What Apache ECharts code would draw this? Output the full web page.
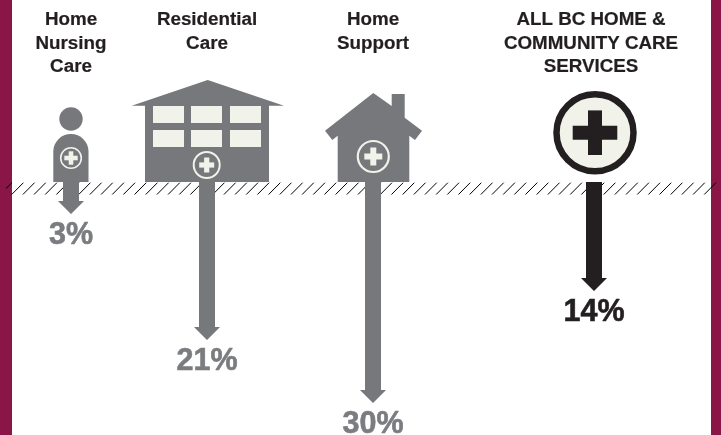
<!DOCTYPE html>
<html>
<head>
<meta charset="utf-8">
<style>html,body{margin:0;padding:0;background:#fff}#c{width:721px;height:435px}</style>
<script src="https://cdn.jsdelivr.net/npm/echarts@6/dist/echarts.min.js"></script>
</head>
<body>
<div id="c"></div>
<script>
const categories = ["Home\nNursing\nCare", "Residential\nCare", "Home\nSupport", "ALL BC HOME &\nCOMMUNITY CARE\nSERVICES"];
const values = [3, 21, 30, 14];

const GRAY = '#77787b', DARK = '#231f20', CREAM = '#f1f2ea', MAROON = '#8a1648';
const centers = [71, 207, 373, 594];
const labelShift = [0, 0, 0, 6];
const colors = [GRAY, GRAY, GRAY, DARK];
const FONT = '"Liberation Sans", Arial, sans-serif';

const chart = echarts.init(document.getElementById('c'), null, {renderer: 'canvas', width: 721, height: 435});

function arrow(i) {
  return function (params, api) {
    const x = api.coord([0, api.value(1)])[0];
    const end = api.coord([0, api.value(1)])[1];
    const start = api.coord([0, 0])[1] + 2;
    const sw = 8, hw = 13, hh = 13;
    const tc = i === 3 ? DARK : '#7b7c80';
    return {
      type: 'group',
      children: [
        {type: 'polygon', shape: {points: [[x - sw, start], [x + sw, start], [x + sw, end], [x + hw, end], [x, end + hh], [x - hw, end], [x - sw, end]]}, style: {fill: colors[i]}},
        {type: 'text', style: {text: api.value(1) + '%', x: x, y: end + 34.5, align: 'center', verticalAlign: 'middle', textAlign: 'center', textVerticalAlign: 'middle', fill: tc, stroke: tc, lineWidth: 0.6, font: 'bold 30.5px ' + FONT}}
      ]
    };
  };
}

const grid = [], xAxis = [], yAxis = [], series = [];
categories.forEach(function (c, i) {
  grid.push({left: centers[i] - 60, width: 120, top: 180, height: 245});
  xAxis.push({
    gridIndex: i, type: 'category', position: 'top', data: [c],
    axisLine: {show: false}, axisTick: {show: false},
    axisLabel: {show: true, interval: 0, margin: 171.5, verticalAlign: 'top', color: '#231f20', fontFamily: FONT, fontWeight: 'bold', fontSize: 18.8, lineHeight: 23.4, align: 'center', padding: [0, labelShift[i], 0, 0], textBorderColor: '#231f20', textBorderWidth: 0.2}
  });
  yAxis.push({gridIndex: i, type: 'value', inverse: true, min: 0, max: 35, show: false});
  series.push({type: 'custom', xAxisIndex: i, yAxisIndex: i, z: 5, clip: false, data: [[0, values[i]]], encode: {x: 0, y: 1}, renderItem: arrow(i)});
});

/* decorative furniture */
const g = [];
g.push({type: 'rect', z: 0, shape: {x: 0, y: 0, width: 12, height: 435}, style: {fill: MAROON}});
g.push({type: 'rect', z: 0, shape: {x: 711, y: 0, width: 10, height: 435}, style: {fill: MAROON}});
g.push({type: 'line', z: 1, shape: {x1: 6, y1: 188.5, x2: 12, y2: 182.7}, style: {stroke: '#000', lineWidth: 1}});
for (let k = 0; k <= 62; k++) {
  const bx = 11.7 + 11.17 * k;
  g.push({type: 'line', z: 1, shape: {x1: bx, y1: 194.5, x2: bx + 11.7, y2: 182.7}, style: {stroke: '#000', lineWidth: 1}});
}
function badge(cx, cy, r, sw, half, thick) {
  g.push({type: 'circle', z: 4, shape: {cx: cx, cy: cy, r: r}, style: {fill: 'none', stroke: CREAM, lineWidth: sw}});
  g.push({type: 'rect', z: 4, shape: {x: cx - half, y: cy - thick / 2, width: half * 2, height: thick}, style: {fill: CREAM}});
  g.push({type: 'rect', z: 4, shape: {x: cx - thick / 2, y: cy - half, width: thick, height: half * 2}, style: {fill: CREAM}});
}
/* person */
g.push({type: 'circle', z: 3, shape: {cx: 71, cy: 119, r: 11.7}, style: {fill: GRAY}});
g.push({type: 'rect', z: 3, shape: {x: 53.3, y: 134, width: 35.2, height: 48, r: [17.6, 17.6, 0, 0]}, style: {fill: GRAY}});
badge(71, 158, 10.3, 1.6, 6.7, 4.6);
/* residential */
g.push({type: 'polygon', z: 3, shape: {points: [[131.7, 105.8], [207.7, 80], [284, 105.8], [269, 105.8], [269, 182], [145, 182], [145, 105.8]]}, style: {fill: GRAY}});
[[153, 106], [191, 106], [230, 106], [153, 130], [191, 130], [230, 130]].forEach(function (w) {
  g.push({type: 'rect', z: 4, shape: {x: w[0], y: w[1], width: 31, height: 17}, style: {fill: CREAM}});
});
badge(206.7, 165, 13, 2, 7.5, 5.2);
/* home */
g.push({type: 'polygon', z: 3, shape: {points: [[373.3, 93], [391.7, 106], [391.7, 94], [404.7, 94], [404.7, 117.7], [422, 130.7], [415, 140], [409.3, 135.7], [409.3, 182], [337.7, 182], [337.7, 135.7], [332.3, 140], [325, 130.7]]}, style: {fill: GRAY}});
badge(373.3, 156.5, 15.5, 2.2, 9, 6);
/* all services */
g.push({type: 'circle', z: 3, shape: {cx: 595, cy: 132.7, r: 38.5}, style: {fill: CREAM, stroke: DARK, lineWidth: 6.5}});
g.push({type: 'rect', z: 4, shape: {x: 595 - 22.3, y: 132.7 - 7, width: 44.6, height: 14}, style: {fill: DARK}});
g.push({type: 'rect', z: 4, shape: {x: 595 - 7, y: 132.7 - 22.3, width: 14, height: 44.6}, style: {fill: DARK}});

chart.setOption({
  animation: false,
  backgroundColor: '#fff',
  grid: grid, xAxis: xAxis, yAxis: yAxis, series: series,
  graphic: {elements: g}
});
</script>
</body>
</html>
